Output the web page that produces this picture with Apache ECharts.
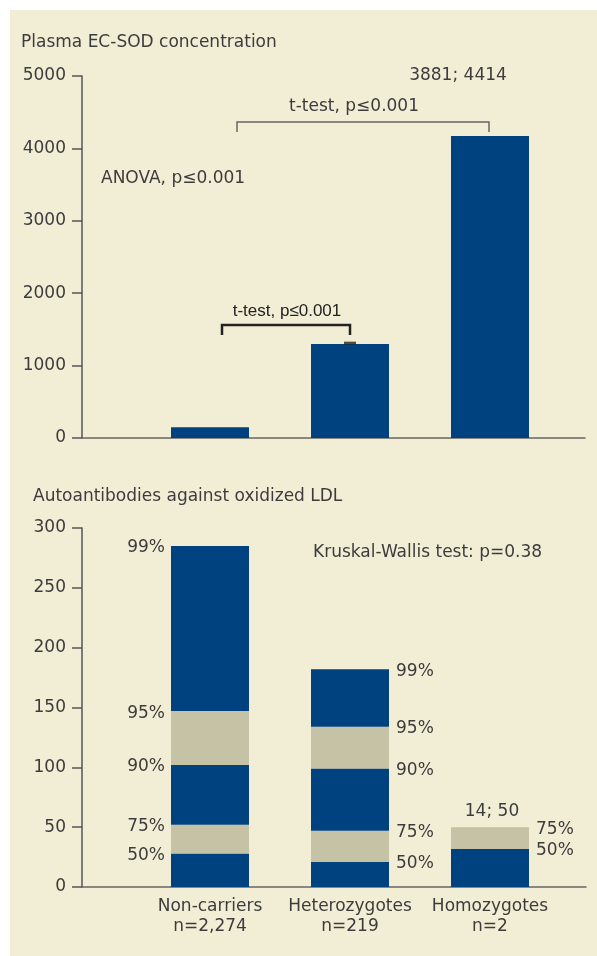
<!DOCTYPE html>
<html>
<head>
<meta charset="utf-8">
<script src="https://cdn.jsdelivr.net/npm/echarts@6/dist/echarts.min.js"></script>
<style>
  html, body { margin: 0; padding: 0; background: #fff; }
  #chart {
    width: 597px;
    height: 956px;
    background: linear-gradient(to right, #fff 10px, transparent 10px),
                linear-gradient(#fff 10px, #f2eed6 10px);
  }
</style>
</head>
<body>
<div id="chart"></div>
<script>
// groups on the x axis
const groups = ['Non-carriers\nn=2,274', 'Heterozygotes\nn=219', 'Homozygotes\nn=2']

// top panel: plasma EC-SOD concentration
const sodValues = [150, 1300, 4170]
const sodErrorTop = [null, 1310, null]

// bottom panel: autoantibody percentiles per group
const pctNames = ['50%', '75%', '90%', '95%', '99%']
const p50 = [28, 21, 32]
const p75 = [52, 47, 50]
const p90 = [102, 99, null]
const p95 = [147, 134, null]
const p99 = [285, 182, null]

const BLUE = '#00427f'
const BEIGE = '#c6c2a5'
const TEXT = '#3c3c3c'
const AXIS = '#555'
const FONT = 'DejaVu Sans'
const FS = 17

const chart = echarts.init(document.getElementById('chart'))

const levels = [p50, p75, p90, p95, p99]
const segColors = [BLUE, BEIGE, BLUE, BEIGE, BLUE]

function pctLabel(groupIdx, name) {
  const left = groupIdx === 0
  return {
    show: true,
    position: left ? 'insideTopLeft' : 'insideTopRight',
    distance: 0,
    align: left ? 'right' : 'left',
    verticalAlign: 'middle',
    offset: left ? [-6, 2] : [7, 2],
    formatter: name,
    color: TEXT,
    fontFamily: FONT,
    fontSize: FS
  }
}

const pctSeries = levels.map((arr, k) => ({
  name: pctNames[k],
  type: 'bar',
  xAxisIndex: 1,
  yAxisIndex: 1,
  stack: 'pct',
  barWidth: 78,
  itemStyle: { color: segColors[k] },
  data: arr.map((v, i) => {
    if (v == null) return '-'
    const prev = k === 0 ? 0 : levels[k - 1][i]
    return { value: v - prev, label: pctLabel(i, pctNames[k]) }
  })
}))

function textEl(text, x, y, opts) {
  return {
    type: 'text',
    x: x,
    y: y,
    style: Object.assign({
      text: text,
      fill: TEXT,
      font: FS + 'px "' + FONT + '"',
      align: 'left',
      verticalAlign: 'middle'
    }, opts || {})
  }
}

const yAxisCommon = {
  type: 'value',
  offset: 58,
  axisLine: { show: true, lineStyle: { color: AXIS, width: 1.5 } },
  axisTick: { show: true, length: 10, lineStyle: { color: AXIS, width: 1.5 } },
  axisLabel: { color: TEXT, fontFamily: FONT, fontSize: FS, margin: 16, formatter: v => String(v) },
  splitLine: { show: false }
}

const option = {
  animation: false,
  grid: [
    { left: 140, right: 37, top: 76, bottom: 518 },
    { left: 140, right: 37, top: 528, bottom: 69 },
    { left: 82, right: 12, top: 76, bottom: 518 },
    { left: 82, right: 11, top: 528, bottom: 69 }
  ],
  xAxis: [
    { type: 'category', gridIndex: 0, data: groups, axisLine: { show: false }, axisTick: { show: false }, axisLabel: { show: false } },
    {
      type: 'category', gridIndex: 1, data: groups,
      axisLine: { show: false }, axisTick: { show: false },
      axisLabel: { color: TEXT, fontFamily: FONT, fontSize: FS, lineHeight: 20, margin: 10, interval: 0, hideOverlap: false }
    },
    { type: 'category', gridIndex: 2, data: [''], axisLine: { lineStyle: { color: '#666', width: 1.5 } }, axisTick: { show: false }, axisLabel: { show: false } },
    { type: 'category', gridIndex: 3, data: [''], axisLine: { lineStyle: { color: '#666', width: 1.5 } }, axisTick: { show: false }, axisLabel: { show: false } }
  ],
  yAxis: [
    Object.assign({}, yAxisCommon, { gridIndex: 0, min: 0, max: 5000, interval: 1000 }),
    Object.assign({}, yAxisCommon, { gridIndex: 1, min: 0, max: 300, interval: 50 }),
    { type: 'value', gridIndex: 2, show: false },
    { type: 'value', gridIndex: 3, show: false }
  ],
  series: [
    {
      type: 'bar',
      xAxisIndex: 0,
      yAxisIndex: 0,
      barWidth: 78,
      itemStyle: { color: BLUE },
      data: sodValues
    },
    {
      type: 'scatter',
      xAxisIndex: 0,
      yAxisIndex: 0,
      symbol: 'rect',
      symbolSize: [12, 3],
      itemStyle: { color: '#222' },
      z: 5,
      data: sodErrorTop.map(v => (v == null ? '-' : v))
    }
  ].concat(pctSeries),
  graphic: [
    textEl('Plasma EC-SOD concentration', 21, 43),
    textEl('3881; 4414', 458, 76, { align: 'center' }),
    textEl('t-test, p\u22640.001', 354, 107, { align: 'center' }),
    textEl('ANOVA, p\u22640.001', 101, 179),
    textEl('t-test, p\u22640.001', 287, 311, { align: 'center', fill: '#222', font: '17px "Liberation Sans"' }),
    {
      type: 'polyline',
      shape: { points: [[237, 132], [237, 122], [489, 122], [489, 132]] },
      style: { stroke: '#666', lineWidth: 1.5, fill: null }
    },
    {
      type: 'polyline',
      shape: { points: [[222, 335], [222, 325], [350, 325], [350, 335]] },
      style: { stroke: '#222', lineWidth: 2.5, fill: null }
    },
    textEl('Autoantibodies against oxidized LDL', 33, 497),
    textEl('Kruskal-Wallis test: p=0.38', 313, 553),
    textEl('14; 50', 492, 812, { align: 'center' })
  ]
}

chart.setOption(option)
</script>
</body>
</html>
